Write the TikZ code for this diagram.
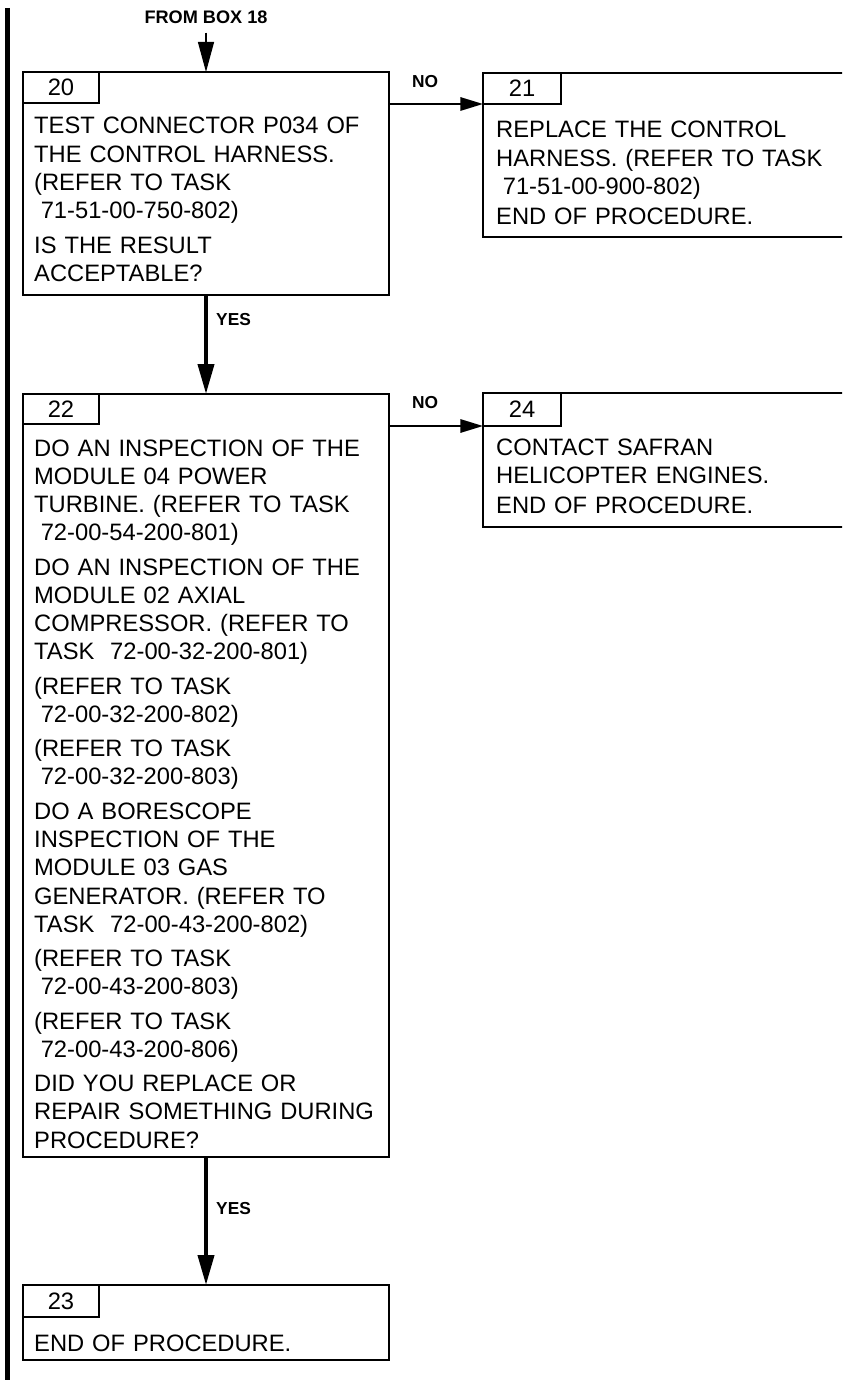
\documentclass[tikz,border=0pt]{standalone}
\usepackage{fontspec}
\setmainfont{Liberation Sans}
\usetikzlibrary{arrows.meta,calc,positioning}
\newcommand{\lsp}{\hspace*{0.278em}}

\begin{document}
\begin{tikzpicture}[x=0.75pt,y=-0.75pt,line width=1.8pt,
  box/.style={draw,rectangle,line width=1.8pt,inner sep=0pt,outer sep=0pt,anchor=north west},
  cell/.style={draw,rectangle,line width=1.5pt,inner sep=0pt,outer sep=0pt,anchor=north west,
    minimum width=57pt,minimum height=23.25pt,font=\fontsize{17.8pt}{20pt}\selectfont},
  txt/.style={anchor=base west,inner sep=0pt,align=left,text width=270pt,
    font=\fontsize{17.8pt}{21.2pt}\selectfont},
  lbl/.style={inner sep=0pt,font=\bfseries\fontsize{13pt}{15pt}\selectfont},
  yesarrow/.style={line width=3pt,-{Triangle[length=22.5pt,width=12pt]}},
  noarrow/.style={line width=1.5pt,-{Triangle[length=17pt,width=10pt]}}]
  \useasboundingbox (0,0) rectangle (842,1380);
  \clip (0,0) rectangle (842,1380);
  % --- margin bar ---
  \draw[line width=3.75pt] (7,8) -- (7,1380);
  % --- boxes ---
  \node[box,minimum width=274.5pt,minimum height=167.25pt] (b20) at (23,72) {};
  \node[cell] (n20) at (b20.north west) {20};
  \node[box,minimum width=312.75pt,minimum height=123pt] (b21) at (483,73) {};
  \node[cell,minimum width=58.5pt] (n21) at (b21.north west) {21};
  \node[box,minimum width=274.5pt,minimum height=572.25pt] (b22) at (23,394) {};
  \node[cell,minimum height=22.5pt] (n22) at (b22.north west) {22};
  \node[box,minimum width=312.75pt,minimum height=100.5pt] (b24) at (483,393) {};
  \node[cell,minimum width=58.5pt,minimum height=24.75pt] (n24) at (b24.north west) {24};
  \node[box,minimum width=274.5pt,minimum height=56.25pt] (b23) at (23,1285) {};
  \node[cell,minimum height=24pt] (n23) at (b23.north west) {23};
  % --- box texts ---
  \node[txt] (t20) at ($(b20.north west)+(10,62)$) {TEST CONNECTOR P034 OF\\
    THE CONTROL HARNESS.\\
    (REFER TO TASK\\
    \lsp71-51-00-750-802)\\[4.5pt]
    IS THE RESULT\\
    ACCEPTABLE?};
  \node[txt,text width=255pt] (t21) at ($(b21.north west)+(12,65)$) {REPLACE THE CONTROL\\
    HARNESS. (REFER TO TASK\\
    \lsp71-51-00-900-802)\\[1.5pt]
    END OF PROCEDURE.};
  \node[txt] (t22) at ($(b22.north west)+(10,62)$) {DO AN INSPECTION OF THE\\
    MODULE 04 POWER\\
    TURBINE. (REFER TO TASK\\
    \lsp72-00-54-200-801)\\[4.5pt]
    DO AN INSPECTION OF THE\\
    MODULE 02 AXIAL\\
    COMPRESSOR. (REFER TO\\
    TASK\ \ 72-00-32-200-801)\\[4.5pt]
    (REFER TO TASK\\
    \lsp72-00-32-200-802)\\[4.5pt]
    (REFER TO TASK\\
    \lsp72-00-32-200-803)\\[4.5pt]
    DO A BORESCOPE\\
    INSPECTION OF THE\\
    MODULE 03 GAS\\
    GENERATOR. (REFER TO\\
    TASK\ \ 72-00-43-200-802)\\[4.5pt]
    (REFER TO TASK\\
    \lsp72-00-43-200-803)\\[4.5pt]
    (REFER TO TASK\\
    \lsp72-00-43-200-806)\\[4.5pt]
    DID YOU REPLACE OR\\
    REPAIR SOMETHING DURING\\
    PROCEDURE?};
  \node[txt,text width=255pt] (t24) at ($(b24.north west)+(12,62)$) {CONTACT SAFRAN\\
    HELICOPTER ENGINES.\\[1.5pt]
    END OF PROCEDURE.};
  \node[txt] (t23) at ($(b23.north west)+(10,66)$) {END OF PROCEDURE.};
  % --- connectors ---
  \node[lbl,inner ysep=6pt,font=\bfseries\fontsize{13.6pt}{15pt}\selectfont] (from18) at (206,17) {FROM BOX 18};
  \draw[line width=0.9pt,-{Triangle[length=22.5pt,width=12pt]}] (from18.south) -- (b20.north);
  \draw[yesarrow] (b20.south) -- (b22.north);
  \node[lbl,anchor=west] (yes20) at (215,320) {YES};
  \draw[yesarrow] (b22.south) -- (b23.north);
  \node[lbl,anchor=west] (yes22) at (215,1209) {YES};
  \draw[noarrow] (b20.east |- n21.south west) -- (n21.south west);
  \node[lbl] (no20) at (425,82) {NO};
  \draw[noarrow] (b22.east |- n24.south west) -- (n24.south west);
  \node[lbl] (no22) at (425,403) {NO};
\end{tikzpicture}
\end{document}
